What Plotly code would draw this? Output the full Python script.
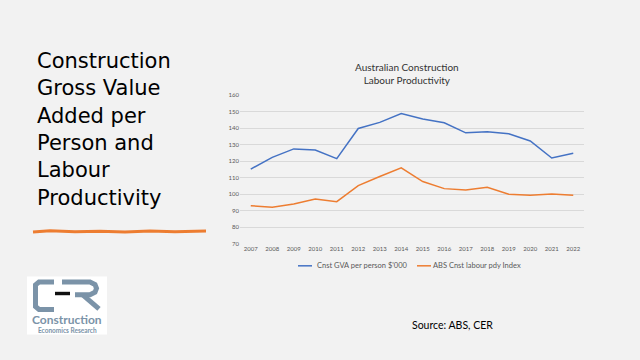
import plotly.graph_objects as go

years = [str(y) for y in range(2007, 2023)]
gva_per_person = [115.2, 122.3, 127.4, 126.7, 121.5, 139.7, 143.4, 148.8, 145.4, 143.2, 137.1, 137.7, 136.5, 132.2, 121.9, 124.7]
labour_pdy_index = [93.1, 92.1, 94.1, 97.1, 95.5, 105.2, 110.7, 116.0, 107.7, 103.4, 102.6, 104.2, 100.0, 99.4, 100.2, 99.4]
series_names = ["Cnst GVA per person $'000", "ABS Cnst labour pdy Index"]
y_ticks = list(range(70, 170, 10))
heading_lines = ["Construction", "Gross Value", "Added per", "Person and", "Labour", "Productivity"]

W, H = 640, 360
BLUE = "#4472C4"
ORANGE = "#ED7D31"
BG = "#F2F2F2"
LOGO = "#7B93A8"

def px(x):
    return x / W

def py(y):
    return 1 - y / H

fig = go.Figure()
fig.add_trace(go.Scatter(x=years, y=gva_per_person, mode="lines", name=series_names[0],
                         line=dict(color=BLUE, width=1.5)))
fig.add_trace(go.Scatter(x=years, y=labour_pdy_index, mode="lines", name=series_names[1],
                         line=dict(color=ORANGE, width=1.5)))

fig.update_layout(
    width=W, height=H,
    margin=dict(l=0, r=0, t=0, b=0),
    paper_bgcolor=BG, plot_bgcolor=BG,
    showlegend=False,
    font=dict(family="Lato, Open Sans, sans-serif", color="#595959"),
    xaxis=dict(domain=[px(240), px(584)], type="category", range=[-0.5, 15.5],
               showgrid=False, zeroline=False, showline=False,
               tickfont=dict(size=6, color="#595959"), ticks="", ticklen=0),
    yaxis=dict(domain=[py(244.7), py(92.7)], range=[70, 160], tickvals=y_ticks,
               showgrid=True, gridcolor="#D9D9D9", gridwidth=1, zeroline=False,
               showline=False, tickfont=dict(size=6, color="#595959"), ticks="", ticklen=0),
)

ann = []
# chart title
ann.append(dict(x=px(407), y=py(71), xref="paper", yref="paper", showarrow=False,
                text="Australian Construction<br>Labour Productivity",
                font=dict(size=10, color="#333333", family="Lato, sans-serif"),
                xanchor="center", yanchor="middle", align="center"))
# legend
ann.append(dict(x=px(315), y=py(267), xref="paper", yref="paper", showarrow=False,
                text=series_names[0], font=dict(size=7.5, color="#595959"),
                xanchor="left", yanchor="middle"))
ann.append(dict(x=px(431), y=py(267), xref="paper", yref="paper", showarrow=False,
                text=series_names[1], font=dict(size=7.5, color="#595959"),
                xanchor="left", yanchor="middle"))
# slide heading
ann.append(dict(x=px(35), y=py(44), xref="paper", yref="paper", showarrow=False,
                text="<br>".join(heading_lines),
                font=dict(size=21, color="#000000", family="DejaVu Sans, sans-serif"),
                xanchor="left", yanchor="top", align="left"))
# source
ann.append(dict(x=px(452), y=py(327), xref="paper", yref="paper", showarrow=False,
                text="Source: ABS, CER", font=dict(size=10.5, color="#000000", family="Lato, sans-serif"),
                xanchor="center", yanchor="middle"))
# logo text
ann.append(dict(x=px(67), y=py(322), xref="paper", yref="paper", showarrow=False,
                text="<b>Construction</b>", font=dict(size=12, color=LOGO, family="Lato, sans-serif"),
                xanchor="center", yanchor="middle"))
ann.append(dict(x=px(67), y=py(332.5), xref="paper", yref="paper", showarrow=False,
                text="<b>Economics Research</b>", font=dict(size=6.5, color=LOGO, family="Lato, sans-serif"),
                xanchor="center", yanchor="middle"))
fig.update_layout(annotations=ann)

shapes = []
# legend line samples
shapes.append(dict(type="line", xref="paper", yref="paper", x0=px(298), x1=px(312), y0=py(267), y1=py(267),
                   line=dict(color=BLUE, width=1.5)))
shapes.append(dict(type="line", xref="paper", yref="paper", x0=px(417), x1=px(431), y0=py(267), y1=py(267),
                   line=dict(color=ORANGE, width=1.5)))

def path(points):
    return "M " + " L ".join(f"{px(x):.5f},{py(y):.5f}" for x, y in points)

# orange brush underline
shapes.append(dict(type="path", xref="paper", yref="paper",
                   path=path([(33, 232.5), (50, 231.3), (75, 232.3), (100, 231.8), (125, 232.4),
                              (150, 231.5), (175, 232.2), (206, 231.6)]),
                   line=dict(color=ORANGE, width=3)))
# logo box
shapes.append(dict(type="rect", xref="paper", yref="paper", x0=px(27), x1=px(107), y0=py(337), y1=py(278),
                   fillcolor="white", line=dict(width=0)))
# C
shapes.append(dict(type="path", xref="paper", yref="paper",
                   path=path([(54, 283.5), (39, 283.5), (35.5, 286.5), (35.5, 308.5), (39, 311.5), (54, 311.5)]),
                   line=dict(color=LOGO, width=5)))
# dash
shapes.append(dict(type="rect", xref="paper", yref="paper", x0=px(55), x1=px(70), y0=py(297), y1=py(293.5),
                   fillcolor="#111111", line=dict(width=0)))
# R
shapes.append(dict(type="path", xref="paper", yref="paper",
                   path=path([(62, 283.5), (90, 283.5), (95, 286), (96.5, 290), (95, 294), (90, 296.5), (75, 296.5)]),
                   line=dict(color=LOGO, width=5)))
shapes.append(dict(type="path", xref="paper", yref="paper",
                   path=path([(83, 297), (99, 311)]),
                   line=dict(color=LOGO, width=5)))
fig.update_layout(shapes=shapes)

fig.write_html("out.html", config={"displayModeBar": False},
               post_script="document.body.style.margin='0';document.body.style.overflow='hidden';")
